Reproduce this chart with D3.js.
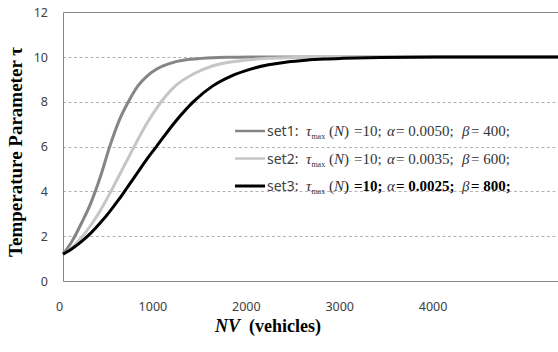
<!DOCTYPE html>
<html>
<head>
<meta charset="utf-8">
<script src="https://cdn.jsdelivr.net/npm/d3@7"></script>
<style>
  html, body { margin: 0; padding: 0; background: #fff; }
  svg { display: block; }
</style>
</head>
<body>
<div id="chart"></div>
<script>
'use strict';

// values
var nValues = [0, 100, 200, 300, 400, 500, 600, 700, 800, 900, 1000, 1200, 1400, 1600, 1800, 2000, 2200, 2400, 2600, 2800, 3000, 3400, 4000, 5400];
var set1Tau = [1.2, 1.8, 2.6, 3.5, 4.65, 6.0, 7.15, 8.0, 8.7, 9.15, 9.45, 9.78, 9.91, 9.97, 9.99, 10, 10, 10, 10, 10, 10, 10, 10, 10];
var set2Tau = [1.2, 1.5, 1.95, 2.5, 3.15, 3.9, 4.7, 5.5, 6.3, 7.05, 7.7, 8.7, 9.25, 9.6, 9.78, 9.88, 9.94, 9.97, 9.99, 10, 10, 10, 10, 10];
var set3Tau = [1.2, 1.45, 1.77, 2.15, 2.6, 3.1, 3.65, 4.25, 4.85, 5.45, 6.0, 7.1, 8.02, 8.7, 9.15, 9.45, 9.65, 9.78, 9.86, 9.91, 9.94, 9.98, 10, 10];

var xTicks = [0, 1000, 2000, 3000, 4000];
var yTicks = [0, 2, 4, 6, 8, 10, 12];

var seriesNames = ['set1', 'set2', 'set3'];
var alphas = ['0.0050', '0.0035', '0.0025'];
var betas = ['400', '600', '800'];

var moduleTauChart = (function() {

    var width = 558,
        height = 352;

    var plotLeft = 63,
        plotTop = 12.2,
        plotBottom = 281;

    var colors = ['#858585', '#c6c6c6', '#000000'];

    var series = [set1Tau, set2Tau, set3Tau].map(function(v, i) {
        return {name: seriesNames[i], values: v, color: colors[i], alpha: alphas[i], beta: betas[i]};
    });

    var svg = d3.select('#chart').append('svg')
        .attr('width', width)
        .attr('height', height);

    var x = d3.scaleLinear().domain([0, 5400]).range([plotLeft, plotLeft + 5400 * 0.0934]);
    var y = d3.scaleLinear().domain([0, 12]).range([plotBottom, plotTop]);

    var init = function() {
        // grid lines
        svg.append('g').selectAll('line')
            .data(yTicks.filter(function(d) { return d > 0 && d < 12; }))
            .enter().append('line')
            .attr('x1', plotLeft)
            .attr('x2', width)
            .attr('y1', function(d) { return Math.round(y(d)) + 0.5; })
            .attr('y2', function(d) { return Math.round(y(d)) + 0.5; })
            .attr('stroke', '#b4b4b4')
            .attr('stroke-width', 1)
            .attr('stroke-dasharray', '3,2.5');

        // frame: top, left, bottom
        svg.append('path')
            .attr('d', 'M' + width + ',' + (Math.round(y(12)) + 0.5) + 'H' + (plotLeft + 0.5) +
                'V' + (Math.round(y(0)) + 0.5) + 'H' + width)
            .attr('fill', 'none')
            .attr('stroke', '#868686')
            .attr('stroke-width', 1);

        // y tick labels
        svg.append('g').selectAll('text')
            .data(yTicks)
            .enter().append('text')
            .attr('x', 48)
            .attr('y', function(d) { return y(d); })
            .attr('dy', '0.36em')
            .attr('text-anchor', 'end')
            .attr('font-family', 'Noto Sans, sans-serif')
            .attr('font-size', 12.5)
            .attr('fill', '#404040')
            .text(function(d) { return d; });

        // x tick labels
        svg.append('g').selectAll('text')
            .data(xTicks)
            .enter().append('text')
            .attr('x', function(d) { return x(d) - 3.5; })
            .attr('y', 310.5)
            .attr('text-anchor', 'middle')
            .attr('font-family', 'Noto Sans, sans-serif')
            .attr('font-size', 12.5)
            .attr('fill', '#404040')
            .text(function(d) { return d; });

        // curves
        var line = d3.line()
            .x(function(d, i) { return x(nValues[i]); })
            .y(function(d) { return y(d); })
            .curve(d3.curveMonotoneX);

        svg.append('g').selectAll('path')
            .data(series)
            .enter().append('path')
            .attr('d', function(d) { return line(d.values); })
            .attr('fill', 'none')
            .attr('stroke', function(d) { return d.color; })
            .attr('stroke-width', 3);

        // legend
        var legend = svg.append('g').selectAll('g')
            .data(series)
            .enter().append('g')
            .attr('transform', function(d, i) { return 'translate(0,' + (131 + i * 27.5) + ')'; });

        legend.append('line')
            .attr('x1', 235)
            .attr('x2', 265)
            .attr('y1', 0)
            .attr('y2', 0)
            .attr('stroke', function(d) { return d.color; })
            .attr('stroke-width', function(d, i) { return i === 2 ? 3 : 2.5; });

        var label = legend.append('text')
            .attr('y', 5)
            .attr('fill', '#333')
            .attr('font-family', 'Liberation Serif, serif')
            .attr('font-size', 15);

        var boldIf3 = function(d) { return d.name === 'set3' ? 'bold' : null; };
        var inkIf3 = function(d) { return d.name === 'set3' ? '#000' : null; };

        label.append('tspan')
            .attr('x', 267)
            .attr('font-family', 'Noto Sans, sans-serif')
            .attr('font-size', 14)
            .attr('fill', '#404040')
            .text(function(d) { return d.name + ':'; });
        label.append('tspan').attr('x', 306).attr('font-style', 'italic').text('τ');
        label.append('tspan').attr('font-size', 8).attr('dy', 3).text('max');
        label.append('tspan').attr('x', 329).attr('dy', -3).text('(');
        label.append('tspan').attr('font-style', 'italic').text('N');
        label.append('tspan').attr('fill', inkIf3).text(')');
        label.append('tspan').attr('x', 354).attr('font-weight', boldIf3).attr('fill', inkIf3).text('=10;');
        label.append('tspan').attr('x', 387).attr('font-style', 'italic').text('α');
        label.append('tspan').attr('x', 396).attr('font-weight', boldIf3).attr('fill', inkIf3)
            .text(function(d) { return '= ' + d.alpha + ';'; });
        label.append('tspan').attr('x', 462).attr('font-style', 'italic').text('β');
        label.append('tspan').attr('x', 471).attr('font-weight', boldIf3).attr('fill', inkIf3)
            .text(function(d) { return '= ' + d.beta + ';'; });

        // axis titles
        var xTitle = svg.append('text')
            .attr('x', 268)
            .attr('y', 332)
            .attr('text-anchor', 'middle')
            .attr('font-family', 'Liberation Serif, serif')
            .attr('font-weight', 'bold')
            .attr('font-size', 18)
            .attr('xml:space', 'preserve');
        xTitle.append('tspan').attr('font-style', 'italic').text('NV');
        xTitle.append('tspan').text('  (vehicles)');

        svg.append('text')
            .attr('transform', 'translate(15,152) rotate(-90)')
            .attr('dy', '0.35em')
            .attr('text-anchor', 'middle')
            .attr('font-family', 'Liberation Serif, serif')
            .attr('font-weight', 'bold')
            .attr('font-size', 19)
            .text('Temperature Parameter τ');
    };

    return {
        init: init
    };
})();

moduleTauChart.init();
</script>
</body>
</html>
